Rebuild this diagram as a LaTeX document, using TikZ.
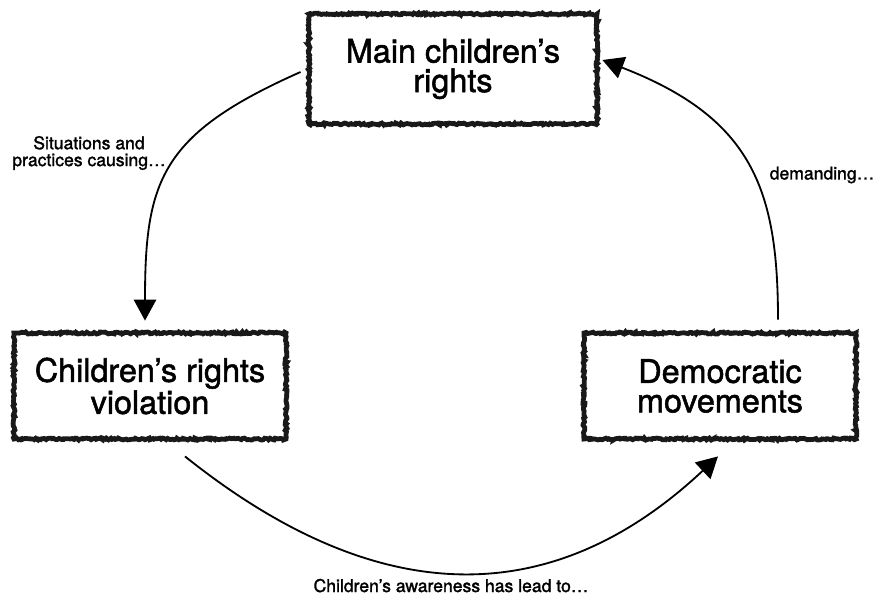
\documentclass[tikz,border=0pt]{standalone}
\usepackage{fontspec}
\setmainfont{TeX Gyre Heros}[FakeBold=1.6]
\usetikzlibrary{arrows.meta, positioning, calc, decorations.pathmorphing}

\begin{document}
\begin{tikzpicture}[x=0.025cm, y=-0.025cm, >={Triangle[length=15pt, width=16pt]},
      every node/.style={align=center},
      rightsbox/.style={draw=black!90, line width=3.4pt, inner sep=0pt,
        minimum width=6.8cm, minimum height=2.65cm,
        font=\fontsize{23}{21}\selectfont,
        decorate, decoration={random steps, segment length=1.2pt, amplitude=0.7pt}},
      note/.style={font=\fontsize{12.5}{12}\selectfont},
      flow/.style={->, line width=1.3pt}]
    \useasboundingbox (0,0) rectangle (875,594);

    \node[rightsbox, minimum width=7.2cm, minimum height=2.75cm] (rights) at (453,69) {Main children’s\\ rights};
    \node[rightsbox] (violation) at (150,386) {Children’s rights\\ violation};
    \node[rightsbox] (movements) at (720,386) {Democratic\\ movements};

    % the cycle
    \draw[flow] ($(rights.west)+(-6,3)$) .. controls +(-140,62) and +(0,-140) .. ($(violation.north)+(-5,-10)$);
    \draw[flow] ($(violation.south)+(35,15)$) .. controls +(200,160) and +(-160,150) .. ($(movements.south)+(-2,15)$);
    \draw[flow] ($(movements.north)+(58,-11)$) .. controls +(0,-130) and +(150,58) .. ($(rights.east)+(3,-9)$);

    \node[note] (causing) at (89,153) {Situations and\\ practices causing…};
    \node[note] (demanding) at (822,175) {demanding…};
    \node[note, anchor=base] (awareness) at (451,592) {Children’s awareness has lead to…};
\end{tikzpicture}
\end{document}
